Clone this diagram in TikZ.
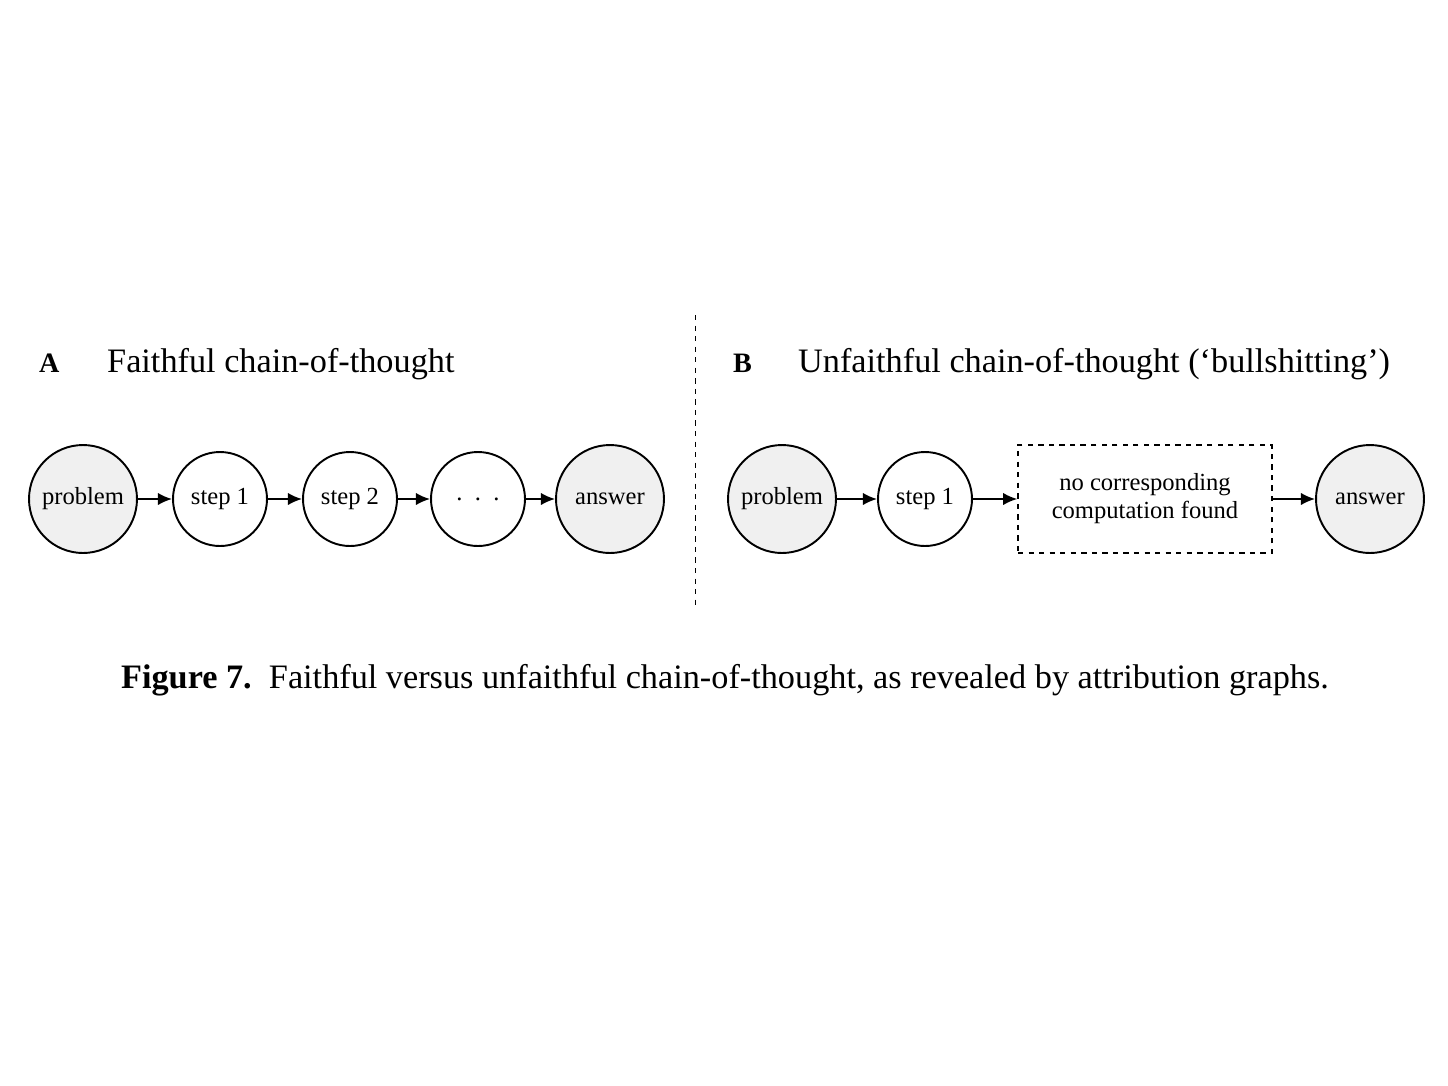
\documentclass[tikz,border=0pt]{standalone}
\usepackage{fontspec}
\setmainfont{Liberation Serif}
\usetikzlibrary{arrows.meta,positioning}
\begin{document}
\begin{tikzpicture}[x=0.02cm,y=-0.02cm,
    big/.style={circle, draw, line width=1.1pt, fill=gray!12, minimum size=2.16cm, inner sep=0pt, font=\fontsize{14}{16}\selectfont},
    small/.style={circle, draw, line width=1.1pt, fill=white, minimum size=1.88cm, inner sep=0pt, font=\fontsize{14}{16}\selectfont},
    gap/.style={rectangle, draw, line width=0.9pt, dashed, minimum width=5.08cm, minimum height=2.16cm, align=center, font=\fontsize{14}{16}\selectfont},
    arr/.style={-{Latex[length=8pt,width=7pt]}, line width=1pt},
    title/.style={anchor=base west, font=\fontsize{19.5}{22}\selectfont}
]
\useasboundingbox (0,0) rectangle (1448,1086);
% Panel A
\node[title, font=\fontsize{16}{18}\selectfont\bfseries] (la) at (33,372) {A};
\node[title] (ta) at (101,372) {Faithful chain-of-thought};
\node[big] (p1) at (83,499) {problem};
\node[small] (s1) at (220,499) {step 1};
\node[small] (s2) at (350,499) {step 2};
\node[small] (d1) at (478,499) {.\hspace{0.5em}.\hspace{0.5em}.};
\node[big] (a1) at (610,499) {answer};
\draw[arr] (p1) -- (s1);
\draw[arr] (s1) -- (s2);
\draw[arr] (s2) -- (d1);
\draw[arr] (d1) -- (a1);

% separator
\coordinate (top) at (695,315);
\coordinate (bot) at (695,610);
\draw[dashed] (top) -- (bot);

% Panel B
\node[title, font=\fontsize{16}{18}\selectfont\bfseries] (lb) at (727,372) {B};
\node[title] (tb) at (792,372) {Unfaithful chain-of-thought (‘bullshitting’)};
\node[big] (p2) at (782,499) {problem};
\node[small] (s3) at (925,499) {step 1};
\node[gap] (g1) at (1145,499) {no corresponding\\computation found};
\node[big] (a2) at (1370,499) {answer};
\draw[arr] (p2) -- (s3);
\draw[arr] (s3) -- (g1);
\draw[arr] (g1) -- (a2);

% caption
\node[font=\fontsize{19.5}{22}\selectfont] (cap) at (725,680) {\textbf{Figure 7.}\ \ Faithful versus unfaithful chain-of-thought, as revealed by attribution graphs.};
\end{tikzpicture}
\end{document}
